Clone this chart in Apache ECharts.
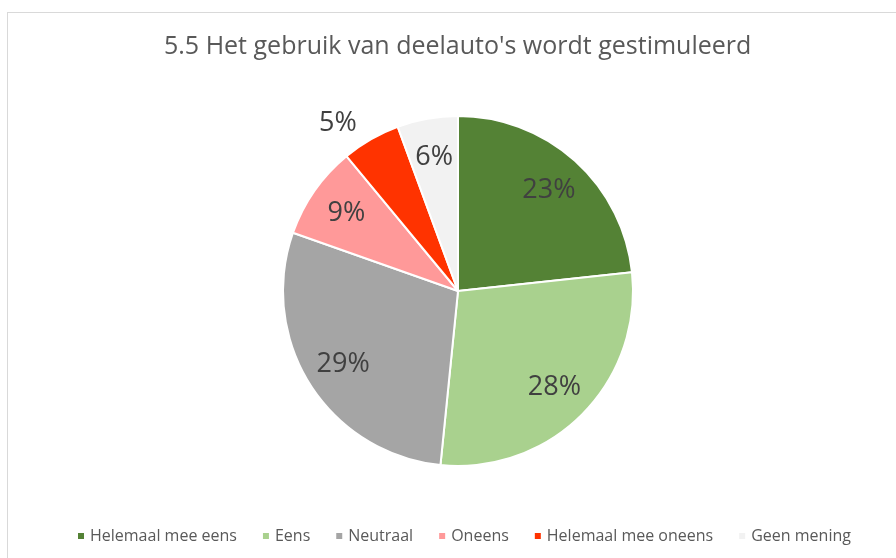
<!DOCTYPE html>
<html><head><meta charset="utf-8">
<script src="https://cdn.jsdelivr.net/npm/echarts@6/dist/echarts.min.js"></script>
<style>
html,body{margin:0;padding:0;background:#fff;}
#frame{position:absolute;left:7px;top:12px;width:900px;height:560px;border-left:1px solid #d9d9d9;border-top:1px solid #d9d9d9;box-sizing:border-box;}
#chart{position:absolute;left:0;top:0;width:896px;height:558px;}
</style></head>
<body>
<div id="frame"></div>
<div id="chart"></div>
<script>
const titleText = "5.5 Het gebruik van deelauto's wordt gestimuleerd";
const categories = ["Helemaal mee eens","Eens","Neutraal","Oneens","Helemaal mee oneens","Geen mening"];
const values = [23.3, 28.3, 28.8, 8.6, 5.4, 5.6];
const colors = ["#548235","#A9D18E","#A5A5A5","#FF9999","#FF3300","#F2F2F2"];

const total = values.reduce((a,b)=>a+b,0);
const fmt = p => Math.round(p.value / total * 100) + '%';

const chart = echarts.init(document.getElementById('chart'));
chart.setOption({
  animation:false,
  color: colors,
  title:{text:titleText,left:159,top:29,textStyle:{fontFamily:'Open Sans',fontSize:25,fontWeight:'normal',color:'#595959'}},
  legend:{bottom:9,left:71,itemWidth:8,itemHeight:8,itemGap:24,icon:'rect',
    textStyle:{fontFamily:'Open Sans',fontSize:16,color:'#595959'},data:categories},
  series:[
    {type:'pie',radius:[0,175],center:[458,291],startAngle:90,clockwise:true,
     label:{show:false},labelLine:{show:false},
     itemStyle:{borderColor:'#fff',borderWidth:2},
     data:categories.map((c,i)=>({name:c,value:values[i]}))},
    {type:'pie',radius:[91,175],center:[458,291],startAngle:90,clockwise:true,silent:true,
     itemStyle:{color:'rgba(0,0,0,0)'},legendHoverLink:false,
     label:{show:true,position:'inside',formatter:fmt,fontFamily:'Open Sans',fontSize:27,color:'#404040'},
     labelLine:{show:false},
     data:categories.map((c,i)=>{
       const d={name:c,value:values[i]};
       if(i===4){d.label={position:'outside',distance:5};d.labelLine={show:false,length:18,length2:0};}
       return d;})}
  ]
});
</script>
</body></html>
